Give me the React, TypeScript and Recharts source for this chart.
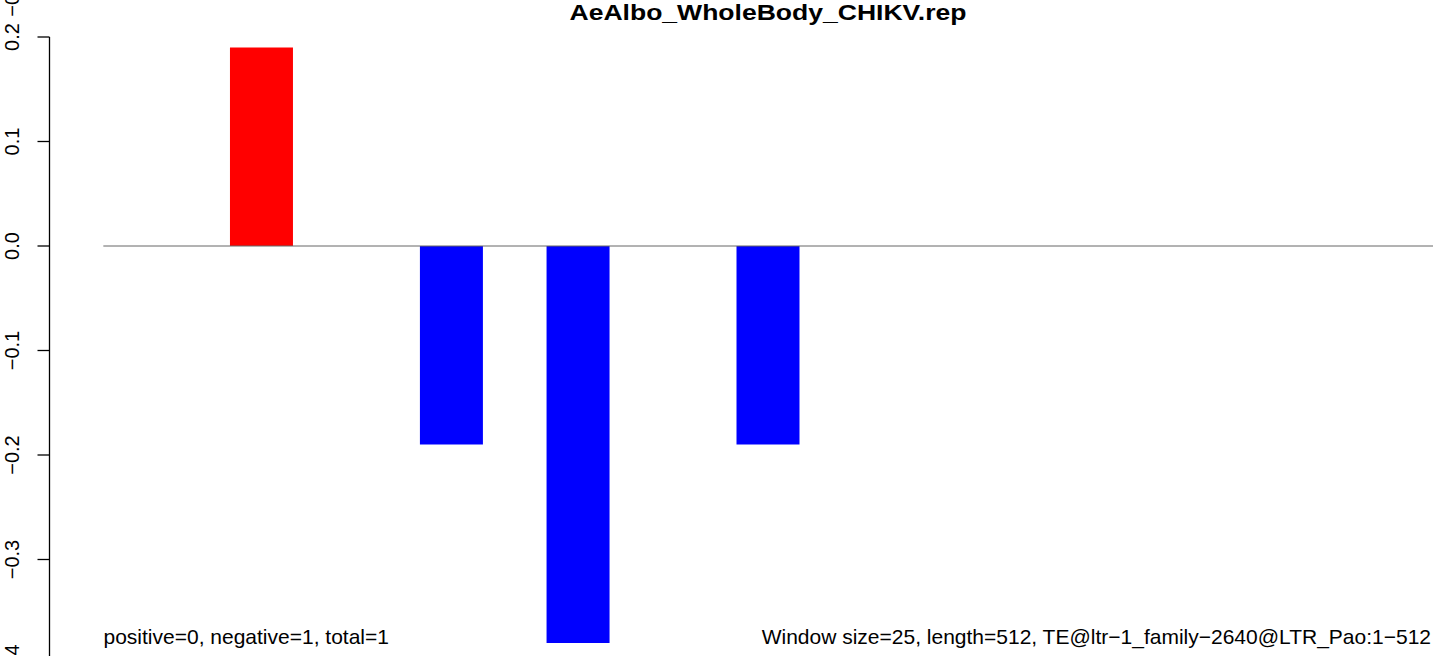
import React from "react";
import { BarChart, Bar, XAxis, YAxis, ReferenceLine, Cell, Customized } from "recharts";

const windows: number[] = [1, 2, 3, 4, 5, 6, 7, 8, 9, 10, 11, 12, 13, 14, 15, 16, 17, 18, 19, 20, 21];
const scores: number[] = [0, 0, 0.19, 0, 0, -0.19, 0, -0.38, 0, 0, -0.19, 0, 0, 0, 0, 0, 0, 0, 0, 0, 0];
const yTicks: number[] = [-0.4, -0.3, -0.2, -0.1, 0, 0.1, 0.2];
const titleText = "AeAlbo_WholeBody_CHIKV.rep";
const leftNote = "positive=0, negative=1, total=1";
const rightNote = "Window size=25, length=512, TE@ltr\u22121_family\u22122640@LTR_Pao:1\u2212512";
const clippedAboveLabel = "\u22120.4";

const data = windows.map((w, i) => ({ win: w, score: scores[i] }));
const xMin = windows[0] - 0.5;
const xMax = windows[windows.length - 1] + 0.5;

const FONT = "'Liberation Sans', Arial, Helvetica, sans-serif";
const AXIS_X = 49.5;
const TICK_LEN = 12;
const PLOT_TOP = 37;

const fmt = (v: number) => {
  if (Math.abs(v) < 1e-9) return "0.0";
  return v < 0 ? "\u2212" + Math.abs(v).toFixed(1) : v.toFixed(1);
};

const YTick = (props: any) => {
  const { y, payload } = props;
  const yy = Number(y);
  return (
    <g>
      <path d={`M${AXIS_X - TICK_LEN},${yy}H${AXIS_X}`} stroke="#000000" strokeWidth={1.3} fill="none" />
      <text
        x={19}
        y={yy}
        transform={`rotate(-90, 19, ${yy})`}
        textAnchor="middle"
        fontFamily={FONT}
        fontSize={20}
        fill="#000"
      >
        {fmt(payload.value)}
      </text>
    </g>
  );
};

const Overlay = () => (
  <g>
    <path d={`M${AXIS_X},${PLOT_TOP}V700`} stroke="#000000" strokeWidth={1.3} fill="none" />
    <text x={768} y={19.5} textAnchor="middle" fontFamily={FONT} fontWeight="bold" fontSize={22} textLength={397} lengthAdjust="spacingAndGlyphs" fill="#000">
      {titleText}
    </text>
    <text x={103.5} y={644} fontFamily={FONT} fontSize={21} fill="#000">
      {leftNote}
    </text>
    <text x={1431} y={644} textAnchor="end" fontFamily={FONT} fontSize={21} fill="#000">
      {rightNote}
    </text>
    <text x={19} y={-3} transform="rotate(-90, 19, -3)" textAnchor="middle" fontFamily={FONT} fontSize={20} fill="#000">
      {clippedAboveLabel}
    </text>
  </g>
);

export default function App() {
  return (
    <div style={{ position: "fixed", left: 0, top: 0, width: 1433, height: 656, overflow: "hidden", background: "#fff" }}>
      <BarChart
        width={1433}
        height={664}
        data={data}
        margin={{ top: PLOT_TOP, right: 0, bottom: 0, left: 0 }}
        barCategoryGap={0}
        barGap={0}
      >
        <XAxis
          dataKey="win"
          type="number"
          domain={[xMin, xMax]}
          padding={{ left: 54.33, right: 0 }}
          allowDataOverflow
          hide
        />
        <YAxis
          width={49}
          domain={[-0.4, 0.2]}
          ticks={yTicks}
          interval={0}
          axisLine={false}
          tickLine={false}
          tick={<YTick />}
          allowDataOverflow
        />
        <Bar dataKey="score" isAnimationActive={false}>
          {data.map((d, i) => (
            <Cell key={i} fill={d.score >= 0 ? "#FF0000" : "#0000FF"} />
          ))}
        </Bar>
        <ReferenceLine
          segment={[{ x: xMin, y: 0 }, { x: xMax, y: 0 }]}
          stroke="#666666"
          strokeWidth={1}
          ifOverflow="visible"
        />
        <Customized component={Overlay} />
      </BarChart>
    </div>
  );
}
